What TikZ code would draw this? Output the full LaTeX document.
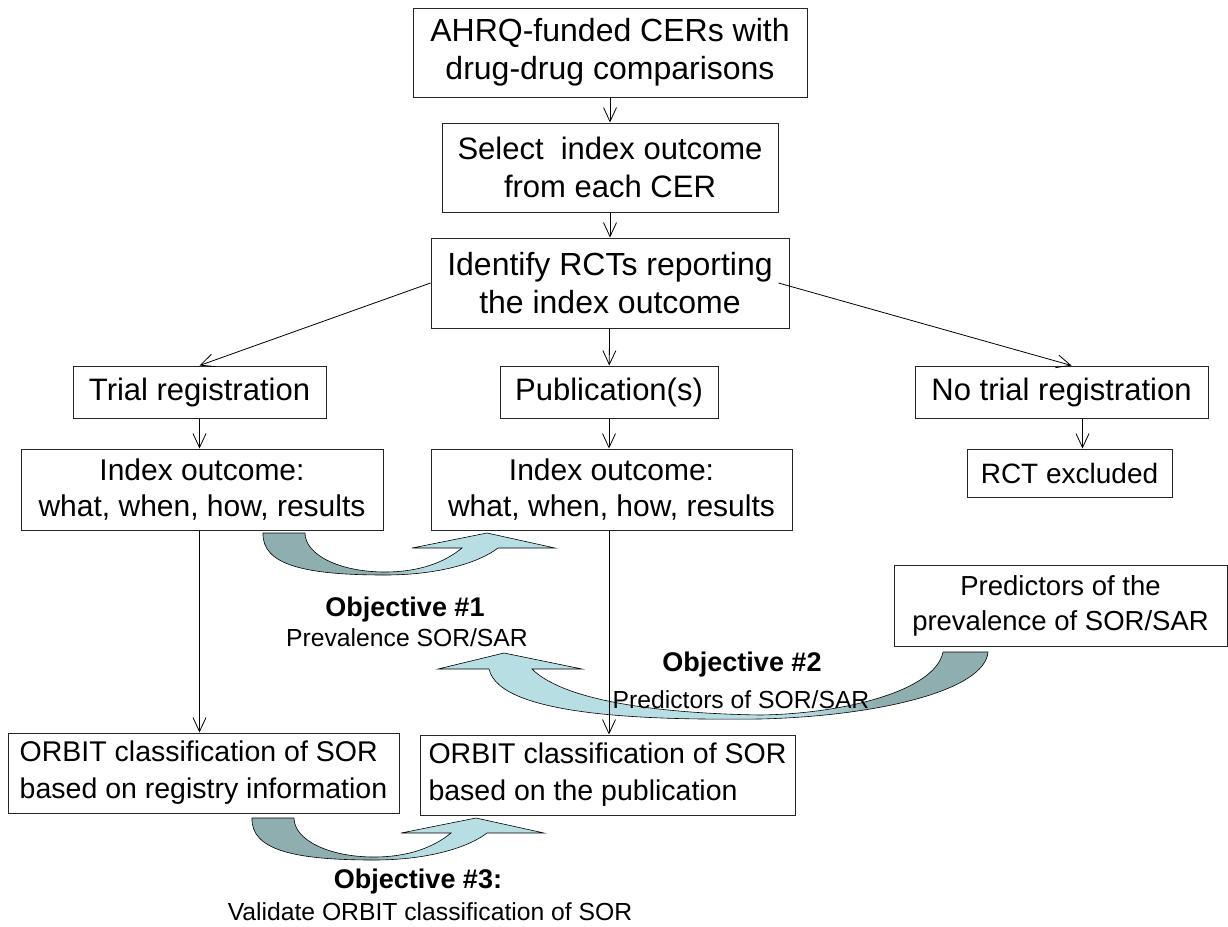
\documentclass[tikz,border=0pt]{standalone}
\usepackage{fontspec}
\setmainfont{Liberation Sans}
\usetikzlibrary{positioning}
\usetikzlibrary{arrows.meta}
\definecolor{tailgrey}{RGB}{143,174,175}
\definecolor{headblue}{RGB}{183,222,227}
\pgfdeclarehorizontalshading{objshade}{100bp}{color(0bp)=(tailgrey); color(45bp)=(tailgrey); color(53bp)=(headblue); color(100bp)=(headblue)}
\pgfdeclarehorizontalshading{objshadelong}{100bp}{color(0bp)=(tailgrey); color(35bp)=(tailgrey); color(42bp)=(headblue); color(100bp)=(headblue)}
\tikzset{
  stage/.style={draw=black!85, line width=1pt, fill=white, align=center, inner sep=0pt, font=\fontsize{31}{38}\selectfont},
  orbitbox/.style={stage, align=left, minimum height=80, font=\fontsize{28.5}{37}\selectfont},
  flow/.style={-{Straight Barb[length=14pt, width=13pt]}, line width=0.8pt},
  objtitle/.style={font=\bfseries\fontsize{27}{32}\selectfont},
  objtext/.style={font=\fontsize{24.7}{30}\selectfont},
  curved up/.pic={
    \shadedraw[shading=objshade, draw=black, line width=0.6pt]
      (0,0) .. controls (-1,32) and (42,42) .. (122,42)
      .. controls (177,42) and (217,29) .. (235,15)
      -- (292,15) -- (224,0) -- (149,15) -- (199,15)
      .. controls (182,29) and (157,39) .. (122,39)
      .. controls (77,39) and (42,22) .. (42,0) -- cycle;
  }
}
\begin{document}
\begin{tikzpicture}[x=1pt, y=-1pt]
        \useasboundingbox (0,0) rectangle (1228,926);
        \pic at (263,533) {curved up};
        \pic at (252,818) {curved up};
        \shadedraw[shading=objshadelong, shading angle=180, draw=black, line width=0.6pt]
          (988,652) .. controls (985,690) and (880,716) .. (760,719)
          .. controls (660,720) and (500,718) .. (489,669)
          -- (438,669) -- (504,653) -- (582,669) -- (532,669)
          .. controls (560,697) and (640,713) .. (760,715)
          .. controls (840,714) and (935,692) .. (943,652) -- cycle;

        \node[stage, minimum width=394, minimum height=89, font=\fontsize{32}{38}\selectfont] (cers) at (610,52.5) {AHRQ-funded CERs with\\drug-drug comparisons};
        \node[stage, minimum width=336, minimum height=89] (select) at (610,167.5) {Select\ \ index outcome\\from each CER};
        \node[stage, minimum width=358, minimum height=90, font=\fontsize{32}{38}\selectfont] (identify) at (610,283) {Identify RCTs reporting\\the index outcome};
        \node[stage, minimum width=253, minimum height=52] (trialreg) at (199.5,392) {Trial registration};
        \node[stage, minimum width=218, minimum height=52] (pubs) at (609,392) {Publication(s)};
        \node[stage, minimum width=293, minimum height=52] (notrial) at (1061.5,392) {No trial registration};
        \node[stage, minimum width=205, minimum height=48, font=\fontsize{28}{34}\selectfont] (excluded) at (1069.5,473) {RCT excluded};
        \node[stage, minimum width=362, minimum height=81, font=\fontsize{30}{36}\selectfont] (outreg) at (202,489.5) {Index outcome:\\what, when, how, results};
        \node[stage, minimum width=361, minimum height=81, font=\fontsize{30}{36}\selectfont] (outpub) at (611.5,489.5) {Index outcome:\\what, when, how, results};
        \node[stage, minimum width=333, minimum height=81, font=\fontsize{27.5}{35}\selectfont] (predictors) at (1060.5,605.5) {Predictors of the\\prevalence of SOR/SAR};
        \node[orbitbox, minimum width=391] (orbitreg) at (203.5,773) {ORBIT classification of SOR\\based on registry information};
        \node[orbitbox, minimum width=375] (orbitpub) at (607.5,775) {ORBIT classification of SOR\\based on the publication};

        \node[objtitle] (obj1) at (405,610) {Objective \#1};
        \node[objtext] (obj1txt) at (407,638) {Prevalence SOR/SAR};
        \node[objtitle] (obj2) at (742,665) {Objective \#2};
        \node[objtext] (obj2txt) at (741,700) {Predictors of SOR/SAR};
        \node[objtitle] (obj3) at (418,882) {Objective \#3:};
        \node[objtext] (obj3txt) at (430,912) {Validate ORBIT classification of SOR};

        \draw[flow] (cers) -- (select);
        \draw[flow] (select) -- (identify);
        \draw[flow] (identify.west) -- (trialreg.north);
        \draw[flow] (identify) -- (pubs);
        \draw[flow] ([xshift=-11pt]identify.east) -- ([xshift=10pt]notrial.north);
        \draw[flow] (trialreg.south) -- (trialreg.south |- outreg.north);
        \draw[flow] (pubs.south) -- (pubs.south |- outpub.north);
        \draw[flow] ([xshift=13pt]excluded.north |- notrial.south) -- ([xshift=13pt]excluded.north);
        \draw[flow] (outreg.south -| trialreg.south) -- (orbitreg.north -| trialreg.south);
        \draw[flow] (outpub.south -| pubs.south) -- (orbitpub.north -| pubs.south);
      \end{tikzpicture}
\end{document}
